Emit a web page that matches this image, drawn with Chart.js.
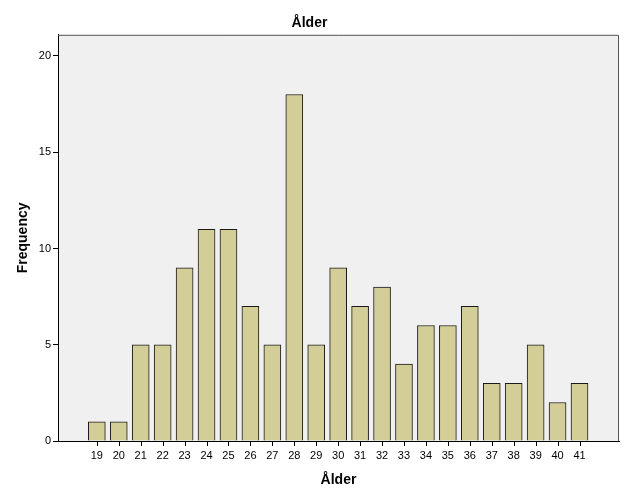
<!DOCTYPE html>
<html>
<head>
<meta charset="utf-8">
<script src="https://cdn.jsdelivr.net/npm/chart.js@4"></script>
<style>
  html, body { margin: 0; padding: 0; background: #fff; }
  #wrap { width: 626px; height: 501px; }
</style>
</head>
<body>
<div id="wrap"><canvas id="chart" width="626" height="501"></canvas></div>
<script>
// ages on the x axis and how many of each
const ages = [19, 20, 21, 22, 23, 24, 25, 26, 27, 28, 29, 30, 31, 32, 33, 34, 35, 36, 37, 38, 39, 40, 41];
const counts = [1, 1, 5, 5, 9, 11, 11, 7, 5, 18, 5, 9, 7, 8, 4, 6, 6, 7, 3, 3, 5, 2, 3];
const yTicks = [0, 5, 10, 15, 20];

const font = "'Liberation Sans', Arial, sans-serif";

// grey plot background + frame, like SPSS output
const framePlugin = {
    id: 'frame',
    beforeDraw(chart) {
        const a = chart.chartArea;
        const c = chart.ctx;
        c.save();
        c.fillStyle = '#f0f0f0';
        c.fillRect(a.left, a.top, a.right - a.left, a.bottom - a.top);
        c.restore();
    },
    afterDraw(chart) {
        const a = chart.chartArea;
        const c = chart.ctx;
        const xs = chart.scales.x;
        c.save();
        c.strokeStyle = '#555555';
        c.lineWidth = 1;
        c.beginPath();
        c.moveTo(a.left, a.top + 0.5);
        c.lineTo(a.right - 0.5, a.top + 0.5);
        c.lineTo(a.right - 0.5, a.bottom);
        c.stroke();
        // x tick marks under the axis
        c.fillStyle = '#000000';
        for (let i = 0; i < ages.length; i++) {
            const px = Math.round(xs.getPixelForValue(ages[i]));
            c.fillRect(px, a.bottom, 1, 5);
        }
        c.restore();
    }
};

const data = ages.map((a, i) => ({ x: a, y: counts[i] }));

new Chart(document.getElementById('chart'), {
    type: 'bar',
    data: {
        datasets: [{
            data: data,
            backgroundColor: '#d3ce97',
            borderColor: '#1a1a1a',
            borderWidth: 1,
            barThickness: 17
        }]
    },
    options: {
        responsive: false,
        animation: false,
        layout: { padding: { left: 0, right: 7, top: 0, bottom: 0 } },
        plugins: {
            legend: { display: false },
            tooltip: { enabled: false },
            title: {
                display: true,
                text: 'Ålder',
                color: '#000',
                font: { family: font, size: 14, weight: 'bold' },
                padding: { top: 15, bottom: 3 }
            }
        },
        scales: {
            x: {
                type: 'linear',
                min: 17.23,
                max: 42.8,
                offset: false,
                afterBuildTicks(scale) {
                    scale.ticks = ages.map(v => ({ value: v }));
                },
                afterFit(scale) { scale.height = 60; },
                ticks: {
                    autoSkip: false,
                    maxRotation: 0,
                    color: '#000',
                    padding: 8,
                    font: { family: font, size: 11 },
                    callback: v => String(v)
                },
                grid: {
                    display: false,
                    drawTicks: false
                },
                border: { display: true, color: '#000', width: 1 },
                title: {
                    display: true,
                    text: 'Ålder',
                    color: '#000',
                    font: { family: font, size: 14, weight: 'bold' },
                    padding: { top: 8, bottom: 12 }
                }
            },
            y: {
                min: 0,
                max: 21.1,
                afterBuildTicks(scale) {
                    scale.ticks = yTicks.map(v => ({ value: v }));
                },
                afterFit(scale) { scale.width = 58; },
                ticks: {
                    color: '#000',
                    padding: 2,
                    font: { family: font, size: 11 }
                },
                grid: {
                    drawOnChartArea: false,
                    drawTicks: true,
                    tickLength: 5,
                    color: '#000'
                },
                border: { display: true, color: '#000', width: 1 },
                title: {
                    display: true,
                    text: 'Frequency',
                    color: '#000',
                    font: { family: font, size: 14, weight: 'bold' },
                    padding: { top: 15, bottom: 6 }
                }
            }
        }
    },
    plugins: [framePlugin]
});
</script>
</body>
</html>
